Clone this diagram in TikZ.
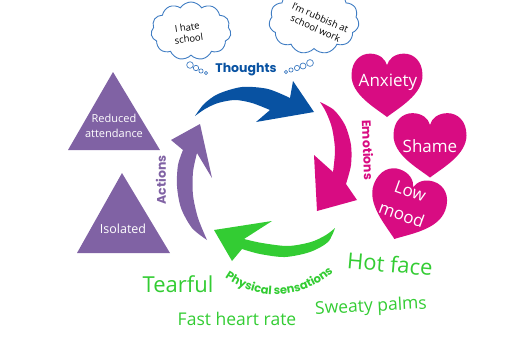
\documentclass[tikz,border=0pt]{standalone}
\usepackage{fontspec}
\setmainfont{Open Sans}
\newfontfamily\labelfont{Poppins}
\usetikzlibrary{shapes.symbols,decorations.text}

\definecolor{thoughtblue}{RGB}{8,82,162}
\definecolor{emomag}{RGB}{216,12,130}
\definecolor{actpurple}{RGB}{128,98,164}
\definecolor{physgreen}{RGB}{51,204,51}
\definecolor{cloudline}{RGB}{64,125,195}

\tikzset{
  heart/.pic={
    \fill[emomag] (0,1) .. controls (-0.35,0.7) and (-1,0.3) .. (-1,-0.3)
      .. controls (-1,-0.75) and (-0.75,-0.98) .. (-0.48,-0.98)
      .. controls (-0.22,-0.98) and (-0.05,-0.82) .. (0,-0.62)
      .. controls (0.05,-0.82) and (0.22,-0.98) .. (0.48,-0.98)
      .. controls (0.75,-0.98) and (1,-0.75) .. (1,-0.3)
      .. controls (1,0.3) and (0.35,0.7) .. (0,1) -- cycle;
  }
}

\begin{document}
\begin{tikzpicture}[x=1pt, y=-1pt,
  cloudbox/.style={cloud, cloud puffs=11, cloud puff arc=115, aspect=1.4,
    draw=cloudline, line width=0.9pt, fill=white, inner sep=0pt},
  cloudtxt/.style={align=center, inner sep=0pt, font=\fontsize{9.5}{11.5}\selectfont},
  bubble/.style={draw=cloudline, fill=white, line width=0.7pt},
  looplabel/.style={inner sep=0pt, font=\labelfont\bfseries\fontsize{12.5}{14}\selectfont},
  hearttxt/.style={text=white, align=center, inner sep=0pt, font=\fontsize{17}{25}\selectfont},
  tritxt/.style={text=white, align=center, inner sep=0pt},
  symptom/.style={text=physgreen, inner sep=0pt}]
  \useasboundingbox (0,0) rectangle (507,359);

  % Thought clouds
  \node[cloudbox, minimum width=80pt, minimum height=58pt] (cloudA) at (191,31) {};
  \node[cloudtxt, rotate=8] (hate) at (188,33) {I hate\\school};
  \node[cloudbox, minimum width=90pt, minimum height=66pt] (cloudB) at (314,21) {};
  \node[cloudtxt, rotate=-24] (rubbish) at (318,23) {I'm rubbish at\\school work};
  \foreach \x/\y/\r in {190/65/3.3, 196/68/2.7, 201/71/2.1, 206/73/1.7,
                        286/72/1.7, 291/70/2.1, 297/68/2.6, 303/66/3, 310/63/3.4} {
    \draw[bubble] (\x,\y) circle (\r);
  }

  % Thoughts arrow (blue)
  \fill[thoughtblue] plot[smooth] coordinates {(195,116) (204,104) (218,94) (242,87) (268,89) (290,98)}
    -- (293,81) -- (314,112) -- (256,122) -- (270,110)
    -- plot[smooth] coordinates {(270,110) (252,103) (235,100) (218,103) (205,109) (195,116)} -- cycle;
  \node[looplabel, text=thoughtblue] (thoughts) at (246,70) {Thoughts};

  % Emotions arrow (magenta)
  \fill[emomag] plot[smooth] coordinates {(320,102) (334,110) (345,125) (351,145) (351,165) (346,184)}
    -- (357,200) -- (317,211) -- (314,155) -- (333,172)
    -- plot[smooth] coordinates {(333,172) (335,150) (332,128) (326,112) (320,102)} -- cycle;
  \node[looplabel, text=emomag, rotate=-88] (emotions) at (368,150) {Emotions};

  % Physical sensations arrow (green)
  \fill[physgreen] plot[smooth] coordinates {(335,228) (328,242) (310,252) (285,257) (260,254) (242,249)}
    -- (232,261) -- (214,230) -- (272,221) -- (244,239)
    -- plot[smooth] coordinates {(244,239) (262,243) (288,246) (311,242) (326,235) (335,228)} -- cycle;
  \path[decorate, decoration={text along path, text align=center,
    text={|\labelfont\bfseries\fontsize{11.5}{13}\selectfont\color{physgreen}|Physical sensations}}]
    (221,275) .. controls (255,301) and (301,303) .. (337,269);

  % Actions arrow (purple)
  \fill[actpurple] plot[smooth] coordinates {(207,240) (192,228) (181,208) (177,186) (178,165) (183,150)}
    -- (171,140) -- (200,124) -- (212,178) -- (197,153)
    -- plot[smooth] coordinates {(197,153) (193,172) (193,195) (198,218) (207,240)} -- cycle;
  \node[looplabel, text=actpurple, rotate=90] (actions) at (161,180) {Actions};

  % Emotion hearts
  \pic[xscale=35.5, yscale=32] at (387,85) {heart};
  \node[hearttxt] (anxiety) at (388,82) {Anxiety};
  \pic[xscale=36.5, yscale=32.5] at (430,145) {heart};
  \node[hearttxt] (shame) at (430,146) {Shame};
  \pic[rotate=-20, xscale=38, yscale=34] at (406,207) {heart};
  \node[hearttxt, rotate=-20] (lowmood) at (406,203) {Low\\mood};

  % Action triangles
  \fill[actpurple] (113,72) -- (160,150) -- (68,150) -- cycle;
  \node[tritxt, font=\fontsize{11}{15}\selectfont] (reduced) at (114,126) {Reduced\\attendance};
  \fill[actpurple] (122,173) -- (170,253) -- (77,253) -- cycle;
  \node[tritxt, font=\fontsize{12.5}{15}\selectfont] (isolated) at (123,229) {Isolated};

  % Physical symptoms
  \node[symptom, font=\fontsize{22}{24}\selectfont, rotate=-5] (hotface) at (390,264) {Hot face};
  \node[symptom, font=\fontsize{22}{24}\selectfont] (tearful) at (178,284) {Tearful};
  \node[symptom, font=\fontsize{17.5}{20}\selectfont, rotate=3] (sweaty) at (371,307) {Sweaty palms};
  \node[symptom, font=\fontsize{17.5}{20}\selectfont] (heartrate) at (237,319) {Fast heart rate};
\end{tikzpicture}
\end{document}
